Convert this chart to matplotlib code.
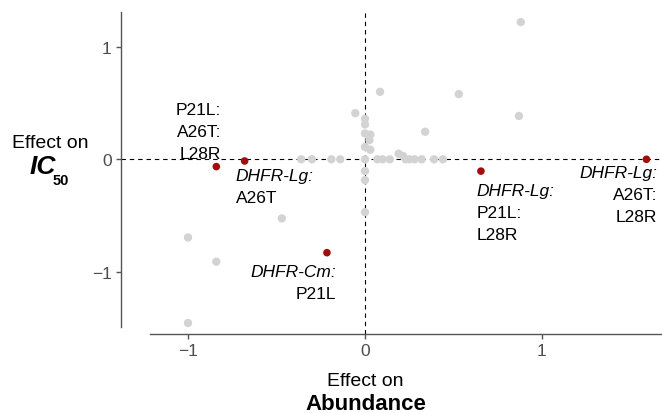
import matplotlib
matplotlib.use("Agg")
import matplotlib.pyplot as plt

plt.rcParams['font.family'] = ['Liberation Sans', 'DejaVu Sans']

# ---------------- data ----------------
grey_x = [0.88, 0.085, 0.53, 0.87, -0.055, 0.34,
          0.0, 0.0, 0.0, 0.0, 0.0, 0.0, 0.0, 0.0,
          0.03, 0.025, 0.03,
          -0.36, -0.30, -0.19, -0.14, 0.07, 0.10, 0.14, 0.23, 0.25, 0.28, 0.32, 0.39, 0.44,
          0.19, 0.215,
          -1.0, -0.84, -1.0, -0.47]
grey_y = [1.22, 0.60, 0.58, 0.385, 0.41, 0.245,
          0.36, 0.31, 0.23, 0.11, 0.0, -0.105, -0.185, -0.47,
          0.22, 0.17, 0.085,
          0.0, 0.0, 0.0, 0.0, 0.0, 0.0, 0.0, 0.0, 0.0, 0.0, 0.0, 0.0, 0.0,
          0.05, 0.03,
          -0.695, -0.91, -1.455, -0.525]

red_x = [-0.84, -0.68, -0.215, 0.655, 1.59]
red_y = [-0.065, -0.015, -0.83, -0.105, 0.0]
red_labels = [
    ["P21L:", "A26T:", "L28R"],
    ["DHFR-Lg:", "A26T"],
    ["DHFR-Cm:", "P21L"],
    ["DHFR-Lg:", "P21L:", "L28R"],
    ["DHFR-Lg:", "A26T:", "L28R"],
]
label_italic_first = [False, True, True, True, True]
label_ha = ["right", "left", "right", "left", "right"]
label_offset = [(5, 53), (-9, -19.5), (9.5, -23.4), (-4, -23.4), (11, -17.7)]

ticks = [-1, 0, 1]
tick_labels = ["\u22121", "0", "1"]

# ---------------- figure ----------------
W, H = 662, 414
fig = plt.figure(figsize=(W / 100, H / 100), dpi=100)
ax = fig.add_axes([121 / W, (H - 335) / H, 541 / W, (335 - 13) / H])

x0, xs = 365.0, 177.0
y0, ys = 160.3, 112.5
ax.set_xlim((121 - x0) / xs, (662 - x0) / xs)
ax.set_ylim((y0 - 335) / ys, (y0 - 13) / ys)

ax.axhline(0, color='black', lw=0.8, ls=(0, (4, 3.5)), zorder=1)
ax.axvline(0, color='black', lw=0.8, ls=(0, (4, 3.5)), zorder=1)

ax.scatter(grey_x, grey_y, s=36, color='#d3d3d3', edgecolors='none', zorder=2)
ax.scatter(red_x, red_y, s=30, color='#a00d0d', edgecolors='none', zorder=3)

spine_col = '#555555'
for s in ['top', 'right']:
    ax.spines[s].set_visible(False)
ax.spines['left'].set_bounds((y0 - 328) / ys, (y0 - 13) / ys)
ax.spines['bottom'].set_bounds((150 - x0) / xs, (662 - x0) / xs)
for s in ['left', 'bottom']:
    ax.spines[s].set_color(spine_col)
    ax.spines[s].set_linewidth(1.0)

ax.set_xticks(ticks)
ax.set_xticklabels(tick_labels)
ax.set_yticks(ticks)
ax.set_yticklabels(tick_labels)
ax.tick_params(length=3.6, width=1.0, color=spine_col, labelcolor='#4d4d4d',
               labelsize=12.5, pad=3)

# ---------------- point labels ----------------
fs = 12.5
pitch = 22
for px, py, lines, itf, ha, (dx, dy0) in zip(red_x, red_y, red_labels,
                                             label_italic_first, label_ha, label_offset):
    for i, line in enumerate(lines):
        style = 'italic' if (i == 0 and itf) else 'normal'
        ax.annotate(line, xy=(px, py), xytext=(dx, dy0 - pitch * i),
                    textcoords='offset pixels', ha=ha, va='baseline',
                    fontsize=fs, fontstyle=style, color='black')

# ---------------- axis titles ----------------
def fx(p):
    return p / W

def fy(p):
    return 1 - p / H

fig.text(fx(50), fy(148.3), "Effect on", ha='center', va='baseline', fontsize=14)
fig.text(fx(30), fy(174.3), "IC", ha='left', va='baseline', fontsize=19,
         fontweight='bold', fontstyle='italic')
fig.text(fx(53), fy(185), "50", ha='left', va='baseline', fontsize=10.5,
         fontweight='bold')
fig.text(fx(365.5), fy(385.7), "Effect on", ha='center', va='baseline', fontsize=14)
fig.text(fx(366), fy(410), "Abundance", ha='center', va='baseline', fontsize=16,
         fontweight='bold')

fig.savefig("out.png", dpi=100)
